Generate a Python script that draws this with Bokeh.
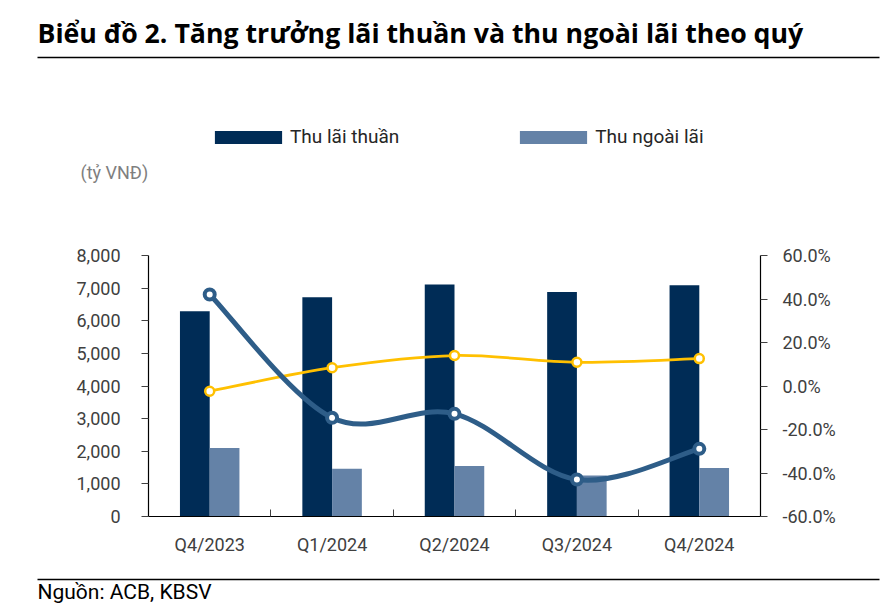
from bokeh.plotting import figure
from bokeh.models import (Range1d, LinearAxis, FixedTicker, NumeralTickFormatter,
                          PrintfTickFormatter, Legend, LegendItem, Label, BoxAnnotation,
                          ColumnDataSource)
from bokeh.transform import dodge
from bokeh.embed import file_html
from bokeh.resources import INLINE

# ---------------- data ----------------
quarters = ["Q4/2023", "Q1/2024", "Q2/2024", "Q3/2024", "Q4/2024"]
net_interest = [6290, 6720, 7110, 6880, 7090]          # Thu lãi thuần (tỷ VNĐ)
non_interest = [2100, 1460, 1550, 1260, 1490]          # Thu ngoài lãi (tỷ VNĐ)
growth_blue = [42.1, -14.6, -12.8, -43.0, -28.9]       # % (right axis)
growth_yellow = [-2.4, 8.4, 14.0, 10.9, 12.6]          # % (right axis)
left_ticks = [0, 1000, 2000, 3000, 4000, 5000, 6000, 7000, 8000]
right_ticks = [-60, -40, -20, 0, 20, 40, 60]

# ---------------- layout (pixels) ----------------
W, H = 891, 606
PL, PR, PT, PB = 148, 760, 255, 516     # plot box inside the canvas
FONT = "Roboto"
TITLE_FONT = "Open Sans"
TXT = "#404040"

n = len(quarters)
idx = list(range(n))


def span_range(lo, hi, px_lo, px_hi, total, flip=False):
    """Range covering the whole canvas so that [lo, hi] lands on the plot box."""
    s = (hi - lo) / (px_hi - px_lo)
    if flip:   # vertical: px measured from top
        return Range1d(lo - (total - px_hi) * s, hi + px_lo * s)
    return Range1d(lo - px_lo * s, hi + (total - px_hi) * s)


xr = span_range(-0.5, n - 0.5, PL, PR, W)
yr = span_range(left_ticks[0], left_ticks[-1], PT, PB, H, flip=True)
pr = span_range(right_ticks[0], right_ticks[-1], PT, PB, H, flip=True)

p = figure(width=W, height=H, x_range=xr, y_range=yr, title=None,
           output_backend="svg", toolbar_location=None, min_border=0,
           x_axis_location=None, y_axis_location=None)
p.extra_y_ranges = {"pct": pr}
p.outline_line_color = None
p.grid.visible = False

src = ColumnDataSource(dict(idx=idx, net=net_interest, non=non_interest,
                            gb=growth_blue, gy=growth_yellow))

bw = 0.243
r_net = p.vbar(x=dodge("idx", -bw / 2, range=p.x_range), top="net", bottom=0, width=bw,
               source=src, fill_color="#002C56", line_color=None)
r_non = p.vbar(x=dodge("idx", bw / 2, range=p.x_range), top="non", bottom=0, width=bw,
               source=src, fill_color="#6482A7", line_color=None)


def smooth(xs, ys):
    """Catmull-Rom style cubic Bezier segments through the data points."""
    m = len(xs)
    out = dict(x0=[], y0=[], x1=[], y1=[], cx0=[], cy0=[], cx1=[], cy1=[])
    for i in range(m - 1):
        xm, ym = (xs[i - 1], ys[i - 1]) if i > 0 else (xs[i], ys[i])
        xp, yp = (xs[i + 2], ys[i + 2]) if i + 2 < m else (xs[i + 1], ys[i + 1])
        out["x0"].append(xs[i]); out["y0"].append(ys[i])
        out["x1"].append(xs[i + 1]); out["y1"].append(ys[i + 1])
        out["cx0"].append(xs[i] + (xs[i + 1] - xm) / 6)
        out["cy0"].append(ys[i] + (ys[i + 1] - ym) / 6)
        out["cx1"].append(xs[i + 1] - (xp - xs[i]) / 6)
        out["cy1"].append(ys[i + 1] - (yp - ys[i]) / 6)
    return ColumnDataSource(out)


p.bezier("x0", "y0", "x1", "y1", "cx0", "cy0", "cx1", "cy1",
         source=smooth(idx, growth_yellow), y_range_name="pct",
         line_color="#FFC000", line_width=2.75)
p.bezier("x0", "y0", "x1", "y1", "cx0", "cy0", "cx1", "cy1",
         source=smooth(idx, growth_blue), y_range_name="pct",
         line_color="#2E5D88", line_width=5)
p.scatter("idx", "gy", source=src, y_range_name="pct", marker="circle", size=9,
          fill_color="white", line_color="#FFC000", line_width=2.5)
p.scatter("idx", "gb", source=src, y_range_name="pct", marker="circle", size=10,
          fill_color="white", line_color="#2E5D88", line_width=4)


def style(ax, size="18px"):
    ax.axis_line_color = "black"
    ax.axis_line_width = 1.2
    ax.major_label_text_font = FONT
    ax.major_label_text_font_size = size
    ax.major_label_text_color = TXT


# x axis (category axis at value 0)
xa = LinearAxis(fixed_location=0, bounds=(-0.5, n - 0.5),
                ticker=FixedTicker(ticks=idx, minor_ticks=[i + 0.5 for i in idx[:-1]]))
xa.major_label_overrides = {i: q for i, q in zip(idx, quarters)}
xa.major_tick_line_color = None
xa.minor_tick_in = 7
xa.minor_tick_out = 0
xa.minor_tick_line_color = "#404040"
xa.major_label_standoff = 11
style(xa)
p.add_layout(xa, "below")

# left axis (tỷ VNĐ)
ya = LinearAxis(fixed_location=-0.5, bounds=(left_ticks[0], left_ticks[-1]),
                ticker=FixedTicker(ticks=left_ticks, minor_ticks=[]),
                formatter=NumeralTickFormatter(format="0,0"))
ya.major_tick_in = 0
ya.major_tick_out = 7
ya.major_tick_line_color = "#404040"
ya.major_label_standoff = 21
style(ya)
p.add_layout(ya, "left")

# right axis (%)
ra = LinearAxis(y_range_name="pct", fixed_location=n - 0.5,
                bounds=(right_ticks[0], right_ticks[-1]),
                ticker=FixedTicker(ticks=right_ticks, minor_ticks=[]),
                formatter=PrintfTickFormatter(format="%.1f%%"))
ra.major_tick_in = 0
ra.major_tick_out = 7
ra.major_tick_line_color = "#404040"
ra.major_label_standoff = 15
style(ra)
p.add_layout(ra, "right")

# legend
legend = Legend(items=[LegendItem(label="Thu lãi thuần", renderers=[r_net]),
                       LegendItem(label="Thu ngoài lãi", renderers=[r_non])],
                orientation="horizontal", location=(206, H - 148),
                glyph_width=84, glyph_height=16, label_standoff=0, spacing=112,
                padding=0, margin=0, border_line_color=None,
                background_fill_alpha=0, label_text_font=FONT,
                label_text_font_size="19px", label_text_color="#262626")
p.add_layout(legend, "center")

# texts & rules (screen units, y measured from the bottom of the canvas)
p.add_layout(Label(x=37, y=H - 32, x_units="screen", y_units="screen",
                   text="Biểu đồ 2. Tăng trưởng lãi thuần và thu ngoài lãi theo quý",
                   text_font=TITLE_FONT, text_font_style="bold", text_font_size="26.7px",
                   text_color="black", text_baseline="alphabetic"))
p.add_layout(Label(x=80, y=H - 172, x_units="screen", y_units="screen",
                   text="(tỷ VNĐ)", text_font=FONT, text_font_size="18px",
                   text_color="#7F7F7F", text_baseline="middle"))
p.add_layout(Label(x=37, y=H - 591, x_units="screen", y_units="screen",
                   text="Nguồn: ACB, KBSV", text_font=FONT, text_font_size="21px",
                   text_color="black", text_baseline="alphabetic"))
for yy in (57, 579):
    p.add_layout(BoxAnnotation(left=37, right=879, top=H - yy + 0.75,
                               bottom=H - yy - 0.75, left_units="screen",
                               right_units="screen", top_units="screen",
                               bottom_units="screen", fill_color="black",
                               fill_alpha=1, line_color=None))

open("out.html", "w").write(file_html(p, INLINE))
